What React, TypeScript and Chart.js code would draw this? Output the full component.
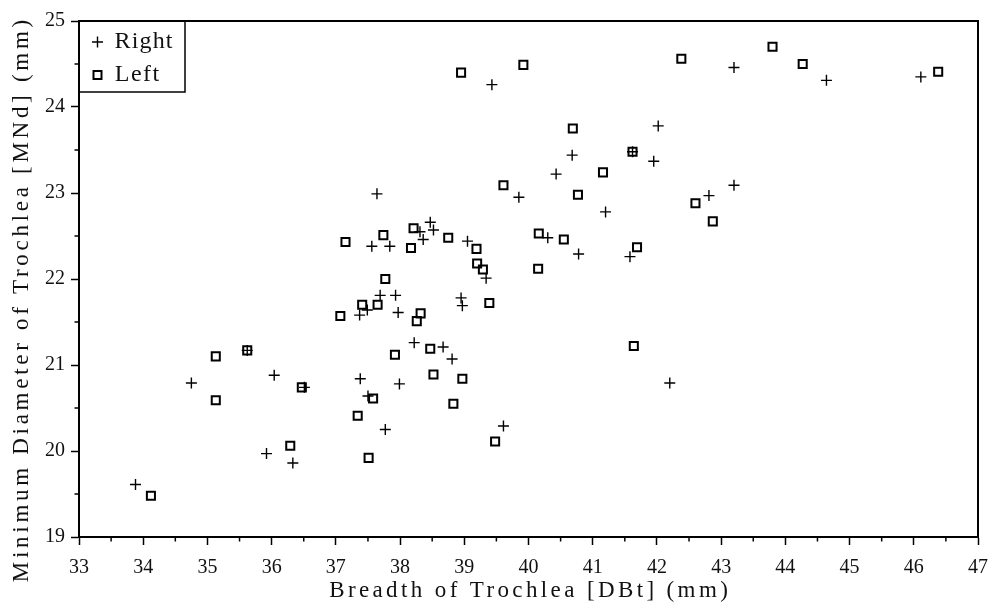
import React, { useEffect, useRef } from 'react';
import { Chart, registerables } from 'chart.js';

Chart.register(...registerables);

// ---- Data ----
const rightX = [
  33.88, 34.75, 36.04, 36.51, 35.92, 36.33, 35.62, 37.37, 37.49, 37.38,
  37.50, 37.64, 38.31, 38.47, 38.52, 38.36, 37.56, 37.84, 39.05, 39.34,
  37.69, 37.93, 37.97, 38.95, 38.97, 38.22, 38.67, 38.81, 37.99, 37.77,
  39.61, 39.43, 39.85, 40.30, 40.43, 40.68, 40.78, 41.20, 41.62, 41.58,
  41.95, 42.02, 42.20, 42.81, 43.20, 43.20, 44.64, 46.11,
];
const rightY = [
  19.61, 20.79, 20.88, 20.74, 19.97, 19.86, 21.17, 21.58, 21.64, 20.84,
  20.64, 22.99, 22.55, 22.66, 22.57, 22.46, 22.38, 22.38, 22.44, 22.01,
  21.81, 21.81, 21.61, 21.78, 21.69, 21.26, 21.21, 21.07, 20.78, 20.25,
  20.29, 24.26, 22.95, 22.48, 23.22, 23.44, 22.29, 22.78, 23.48, 22.26,
  23.37, 23.78, 20.79, 22.97, 23.09, 24.46, 24.31, 24.35,
];
const leftX = [
  34.12, 35.13, 35.13, 35.62, 36.47, 36.29, 37.07, 37.41, 37.65, 37.58,
  37.34, 37.51, 37.15, 37.74, 38.21, 38.17, 38.75, 39.19, 39.20, 39.29,
  37.77, 38.32, 38.26, 39.39, 38.47, 37.92, 38.52, 38.97, 38.83, 39.48,
  38.95, 39.92, 39.61, 40.69, 41.62, 41.16, 40.77, 40.16, 40.55, 40.15,
  41.69, 41.64, 42.38, 43.80, 42.60, 42.87, 44.27, 46.38,
];
const leftY = [
  19.48, 21.10, 20.59, 21.17, 20.74, 20.06, 21.57, 21.70, 21.70, 20.61,
  20.41, 19.92, 22.43, 22.51, 22.59, 22.36, 22.48, 22.35, 22.18, 22.11,
  22.00, 21.60, 21.51, 21.72, 21.19, 21.12, 20.89, 20.84, 20.55, 20.11,
  24.40, 24.49, 23.09, 23.75, 23.48, 23.24, 22.98, 22.53, 22.46, 22.12,
  22.37, 21.22, 24.56, 24.70, 22.88, 22.67, 24.50, 24.41,
];

const seriesLabels = ['Right', 'Left'];
const xTitle = 'Breadth of Trochlea [DBt] (mm)';
const yTitle = 'Minimum Diameter of Trochlea [MNd] (mm)';
const X_MIN = 33;
const X_MAX = 47;
const Y_MIN = 19;
const Y_MAX = 25;

const FONT = '"Liberation Serif", "Times New Roman", serif';

function drawSpacedText(ctx: CanvasRenderingContext2D, text: string, x: number, y: number, target: number) {
  (ctx as any).letterSpacing = '0px';
  const w = ctx.measureText(text).width;
  const sp = Math.max(0, (target - w) / text.length);
  (ctx as any).letterSpacing = sp + 'px';
  ctx.fillText(text, x + sp / 2, y);
  (ctx as any).letterSpacing = '0px';
}

const decorPlugin = {
  id: 'decor',
  afterDraw(chart: any) {
    const { ctx, chartArea: a, scales } = chart;
    ctx.save();
    ctx.strokeStyle = '#000';
    ctx.lineWidth = 2;
    ctx.strokeRect(a.left, a.top, a.right - a.left, a.bottom - a.top);

    // minor ticks
    ctx.lineWidth = 1.5;
    ctx.beginPath();
    for (let v = X_MIN + 0.5; v < X_MAX; v += 1) {
      const px = scales.x.getPixelForValue(v);
      ctx.moveTo(px, a.bottom);
      ctx.lineTo(px, a.bottom + 4.5);
    }
    for (let v = Y_MIN + 0.5; v < Y_MAX; v += 1) {
      const py = scales.y.getPixelForValue(v);
      ctx.moveTo(a.left, py);
      ctx.lineTo(a.left - 4.5, py);
    }
    ctx.stroke();

    // axis titles
    ctx.fillStyle = '#111';
    ctx.font = '23px ' + FONT;
    ctx.textAlign = 'center';
    ctx.textBaseline = 'middle';
    drawSpacedText(ctx, xTitle, (a.left + a.right) / 2, 591, 402);
    ctx.save();
    ctx.translate(22, 301);
    ctx.rotate(-Math.PI / 2);
    drawSpacedText(ctx, yTitle, 0, 0, 566);
    ctx.restore();

    // legend box
    ctx.lineWidth = 1.5;
    ctx.strokeStyle = '#000';
    ctx.strokeRect(a.left, a.top, 185 - a.left, 92 - a.top);
    ctx.fillStyle = '#111';
    ctx.font = '24px ' + FONT;
    ctx.textAlign = 'left';
    // cross
    ctx.lineWidth = 1.4;
    ctx.beginPath();
    ctx.moveTo(97.5 - 5.5, 42);
    ctx.lineTo(97.5 + 5.5, 42);
    ctx.moveTo(97.5, 36.5);
    ctx.lineTo(97.5, 47.5);
    ctx.stroke();
    drawSpacedText(ctx, seriesLabels[0], 114, 42, 59);
    // square
    ctx.lineWidth = 2;
    ctx.strokeRect(93.5, 71, 8, 8);
    drawSpacedText(ctx, seriesLabels[1], 114, 75, 46);
    ctx.restore();
  },
};

export default function App() {
  const ref = useRef<HTMLCanvasElement | null>(null);

  useEffect(() => {
    document.body.style.margin = '0';
    const canvas = ref.current;
    if (!canvas) return;
    const chart = new Chart(canvas, {
      type: 'scatter',
      data: {
        datasets: [
          {
            label: seriesLabels[0],
            data: rightX.map((x, i) => ({ x, y: rightY[i] })),
            pointStyle: 'cross',
            radius: 5.5,
            borderColor: '#000',
            backgroundColor: '#000',
            borderWidth: 1.4,
          },
          {
            label: seriesLabels[1],
            data: leftX.map((x, i) => ({ x, y: leftY[i] })),
            pointStyle: 'rect',
            radius: 5.7,
            borderColor: '#000',
            backgroundColor: 'rgba(0,0,0,0)',
            borderWidth: 2,
          },
        ],
      },
      options: {
        responsive: false,
        animation: false,
        devicePixelRatio: 1,
        layout: { padding: { top: 21, right: 13, left: 0, bottom: 0 } },
        plugins: {
          legend: { display: false },
          tooltip: { enabled: false },
        },
        scales: {
          x: {
            type: 'linear',
            min: X_MIN,
            max: X_MAX,
            afterFit: (s: any) => { s.height = 66; },
            ticks: {
              stepSize: 1,
              color: '#111',
              padding: 11,
              font: { family: FONT, size: 20 },
              maxRotation: 0,
            },
            grid: {
              drawOnChartArea: false,
              tickLength: 8,
              tickColor: '#000',
              tickWidth: 1.5,
            },
            border: { display: true, color: '#000', width: 2 },
          },
          y: {
            type: 'linear',
            min: Y_MIN,
            max: Y_MAX,
            afterFit: (s: any) => { s.width = 79; },
            ticks: {
              stepSize: 1,
              color: '#111',
              padding: 6,
              font: { family: FONT, size: 20 },
            },
            grid: {
              drawOnChartArea: false,
              tickLength: 8,
              tickColor: '#000',
              tickWidth: 1.5,
            },
            border: { display: true, color: '#000', width: 2 },
          },
        },
      },
      plugins: [decorPlugin],
    });
    return () => chart.destroy();
  }, []);

  return (
    <div style={{ width: 999, height: 603 }}>
      <canvas ref={ref} width={999} height={603} style={{ display: 'block' }} />
    </div>
  );
}
